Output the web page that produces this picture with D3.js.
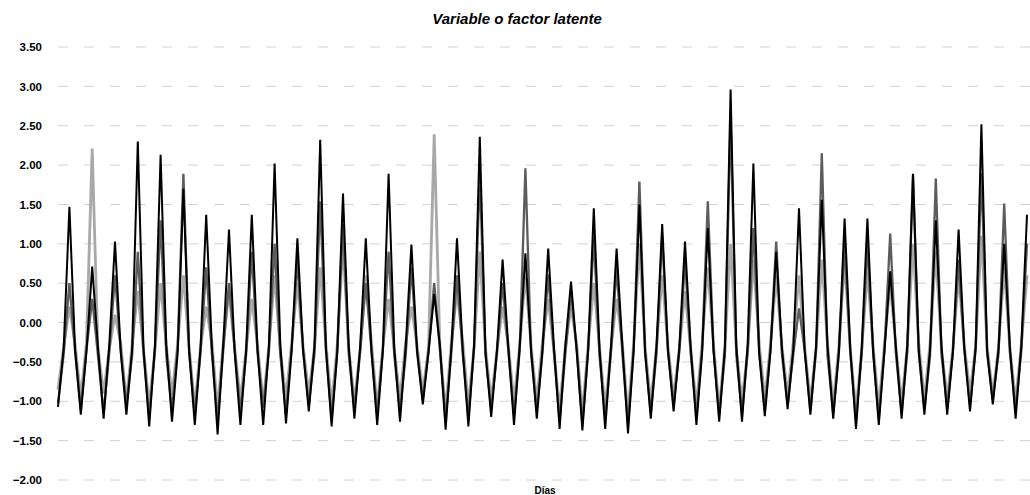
<!DOCTYPE html>
<html>
<head>
<meta charset="utf-8">
<script src="https://cdn.jsdelivr.net/npm/d3@7"></script>
<style>
  html, body { margin: 0; padding: 0; background: #fff; }
  svg { display: block; }
</style>
</head>
<body>
<svg id="chart" width="1030" height="495"></svg>
<script>
// Tick values of the vertical axis
const yTicks = [-2.0, -1.5, -1.0, -0.5, 0.0, 0.5, 1.0, 1.5, 2.0, 2.5, 3.0, 3.5];

// Series 1 (black): troughs, rising crossings, peaks, falling crossings per cycle
const blackTrough = [
  -1.07,-1.17,-1.22,-1.17,-1.32,-1.26,-1.30,-1.42,-1.30,-1.30,
  -1.28,-1.13,-1.32,-1.22,-1.30,-1.26,-1.04,-1.36,-1.32,-1.20,
  -1.30,-1.22,-1.35,-1.37,-1.35,-1.41,-1.22,-1.13,-1.30,-1.26,
  -1.26,-1.19,-1.10,-1.17,-1.22,-1.35,-1.30,-1.22,-1.17,-1.17,
  -1.13,-1.04,-1.22];
const blackRise = [
  -0.32,-0.36,-0.28,-0.35,-0.30,-0.38,-0.33,-0.27,-0.36,-0.31,
  -0.34,-0.29,-0.37,-0.32,-0.35,-0.30,-0.38,-0.33,-0.28,-0.36,
  -0.31,-0.34,-0.29,-0.37,-0.32,-0.35,-0.30,-0.33,-0.38,-0.31,
  -0.27,-0.36,-0.34,-0.30,-0.37,-0.32,-0.35,-0.29,-0.33,-0.38,
  -0.31,-0.34,-0.30];
const blackPeak = [
  1.47,0.71,1.03,2.30,2.13,1.70,1.37,1.18,1.37,2.02,
  1.07,2.32,1.64,1.07,1.89,0.99,0.36,1.07,2.36,0.80,
  0.88,0.94,0.52,1.45,0.94,1.50,1.25,1.03,1.20,2.96,
  2.02,0.90,1.45,1.56,1.32,1.32,0.65,1.89,1.30,1.18,
  2.52,1.00,1.37];
const blackFall = [
  -0.35,-0.30,-0.37,-0.33,-0.29,-0.36,-0.31,-0.38,-0.34,-0.28,
  -0.35,-0.32,-0.30,-0.37,-0.33,-0.36,-0.29,-0.34,-0.38,-0.31,
  -0.35,-0.30,-0.36,-0.33,-0.28,-0.37,-0.34,-0.31,-0.35,-0.30,
  -0.38,-0.32,-0.36,-0.29,-0.34,-0.37,-0.31,-0.35,-0.30,-0.33,
  -0.36,-0.32];

// Series 2 (dark grey)
const darkTrough = [
  -1.02,-1.10,-1.15,-1.05,-1.20,-1.12,-1.18,-1.25,-1.14,-1.08,
  -1.16,-1.05,-1.22,-1.10,-1.17,-1.12,-0.98,-1.24,-1.20,-1.10,
  -1.18,-1.12,-1.25,-1.28,-1.22,-1.30,-1.15,-1.05,-1.20,-1.18,
  -1.16,-1.10,-1.05,-1.12,-1.15,-1.25,-1.22,-1.14,-1.10,-1.08,
  -1.05,-0.98,-1.12];
const darkRise = [
  -0.40,-0.34,-0.38,-0.42,-0.36,-0.31,-0.39,-0.35,-0.41,-0.37,
  -0.33,-0.40,-0.36,-0.38,-0.34,-0.42,-0.37,-0.39,-0.32,-0.40,
  -0.35,-0.38,-0.41,-0.36,-0.39,-0.33,-0.40,-0.37,-0.35,-0.42,
  -0.38,-0.34,-0.40,-0.36,-0.39,-0.41,-0.35,-0.38,-0.42,-0.37,
  -0.34,-0.40,-0.36];
const darkPeak = [
  0.50,0.30,0.60,0.90,1.30,1.89,0.70,0.50,0.90,1.00,
  0.80,1.54,1.25,0.50,0.90,0.70,0.50,0.60,1.90,0.50,
  1.96,0.61,0.40,1.09,0.70,1.79,1.10,0.80,1.54,2.60,
  1.20,1.03,0.18,2.15,1.00,1.00,1.13,1.88,1.83,0.80,
  1.90,1.51,1.00];
const darkFall = [
  -0.37,-0.41,-0.35,-0.39,-0.42,-0.36,-0.40,-0.34,-0.38,-0.41,
  -0.37,-0.35,-0.40,-0.36,-0.42,-0.38,-0.34,-0.39,-0.41,-0.36,
  -0.40,-0.37,-0.35,-0.42,-0.38,-0.40,-0.36,-0.39,-0.34,-0.41,
  -0.37,-0.40,-0.35,-0.42,-0.38,-0.36,-0.40,-0.37,-0.41,-0.35,
  -0.39,-0.38];

// Series 3 (light grey)
const lightTrough = [
  -0.85,-0.95,-0.90,-1.00,-1.05,-0.92,-1.08,-1.10,-0.98,-1.02,
  -0.95,-0.90,-1.05,-1.00,-1.08,-0.96,-0.88,-1.12,-1.05,-0.98,
  -1.02,-1.00,-1.10,-1.15,-1.08,-1.18,-1.02,-0.95,-1.05,-1.10,
  -1.00,-0.98,-0.92,-1.00,-1.05,-1.12,-1.08,-1.00,-0.98,-0.95,
  -0.90,-0.92,-1.00];
const lightRise = [
  -0.30,-0.25,-0.33,-0.28,-0.35,-0.27,-0.31,-0.24,-0.34,-0.29,
  -0.26,-0.32,-0.28,-0.35,-0.30,-0.25,-0.33,-0.27,-0.31,-0.36,
  -0.28,-0.24,-0.32,-0.29,-0.34,-0.26,-0.30,-0.33,-0.27,-0.31,
  -0.35,-0.28,-0.25,-0.32,-0.29,-0.34,-0.27,-0.30,-0.26,-0.33,
  -0.29,-0.31,-0.28];
const lightPeak = [
  0.20,2.21,0.10,0.40,0.50,0.60,0.20,0.40,0.30,0.60,
  0.50,0.70,0.99,0.60,0.30,0.20,2.39,0.40,0.90,0.20,
  0.60,0.30,0.20,0.50,0.30,1.00,0.60,0.40,0.70,1.00,
  0.80,0.60,0.60,0.80,0.80,0.65,0.50,1.00,0.90,0.60,
  1.10,0.70,0.60];
const lightFall = [
  -0.27,-0.32,-0.26,-0.34,-0.29,-0.31,-0.25,-0.33,-0.28,-0.35,
  -0.30,-0.27,-0.32,-0.26,-0.34,-0.29,-0.31,-0.24,-0.33,-0.28,
  -0.30,-0.35,-0.27,-0.32,-0.26,-0.31,-0.29,-0.34,-0.28,-0.33,
  -0.25,-0.30,-0.32,-0.27,-0.35,-0.29,-0.31,-0.26,-0.34,-0.28,
  -0.30,-0.33];

const titleText = "Variable o factor latente";
const xTitleText = "Días";

// Join the per-cycle readings into one ordered sequence of observations
function sequence(trough, rise, peak, fall) {
  const out = [];
  trough.forEach((t, k) => {
    out.push(t, rise[k], peak[k]);
    if (k < fall.length) out.push(fall[k]);
  });
  return out;
}

const series = [
  { name: "light", color: "#a8a8a8", width: 2.8, values: sequence(lightTrough, lightRise, lightPeak, lightFall) },
  { name: "dark",  color: "#5c5c5c", width: 2.3, values: sequence(darkTrough, darkRise, darkPeak, darkFall) },
  { name: "black", color: "#000000", width: 2.0, values: sequence(blackTrough, blackRise, blackPeak, blackFall) }
];

const svg = d3.select("#chart");
const W = 1030, H = 495;
const plot = { left: 58, right: 1027, top: 47, bottom: 480 };

const n = series[2].values.length;
const x = d3.scaleLinear().domain([0, n - 1]).range([plot.left, plot.right]);
const y = d3.scaleLinear().domain([-2, 3.5]).range([plot.bottom, plot.top]);

// Horizontal gridlines, faint and broken
svg.append("g")
  .selectAll("line")
  .data(yTicks)
  .join("line")
  .attr("x1", plot.left)
  .attr("x2", W)
  .attr("y1", d => y(d))
  .attr("y2", d => y(d))
  .attr("stroke", "#d2d2d2")
  .attr("stroke-width", 1)
  .attr("stroke-dasharray", "10 16");

// Vertical axis labels
const yAxis = d3.axisLeft(y).tickValues(yTicks).tickFormat(d3.format(".2f")).tickSize(0).tickPadding(0);
const gy = svg.append("g").attr("transform", "translate(42,0)").call(yAxis);
gy.select(".domain").remove();
gy.selectAll("text")
  .attr("font-family", "'Liberation Sans', Arial, sans-serif")
  .attr("font-size", 11.5)
  .attr("font-weight", "bold")
  .attr("fill", "#000");

// Lines
const line = d3.line()
  .x((d, i) => x(i))
  .y(d => y(d));

svg.append("g")
  .selectAll("path")
  .data(series)
  .join("path")
  .attr("d", d => line(d.values))
  .attr("fill", "none")
  .attr("stroke", d => d.color)
  .attr("stroke-width", d => d.width)
  .attr("stroke-linejoin", "miter")
  .attr("stroke-miterlimit", 3);

// Titles
svg.append("text")
  .attr("x", 517)
  .attr("y", 24)
  .attr("text-anchor", "middle")
  .attr("font-family", "'Liberation Sans', Arial, sans-serif")
  .attr("font-size", 15)
  .attr("font-weight", "bold")
  .attr("font-style", "italic")
  .text(titleText);

svg.append("text")
  .attr("x", 545)
  .attr("y", 494)
  .attr("text-anchor", "middle")
  .attr("font-family", "'Liberation Sans', Arial, sans-serif")
  .attr("font-size", 10)
  .attr("font-weight", "bold")
  .text(xTitleText);
</script>
</body>
</html>
